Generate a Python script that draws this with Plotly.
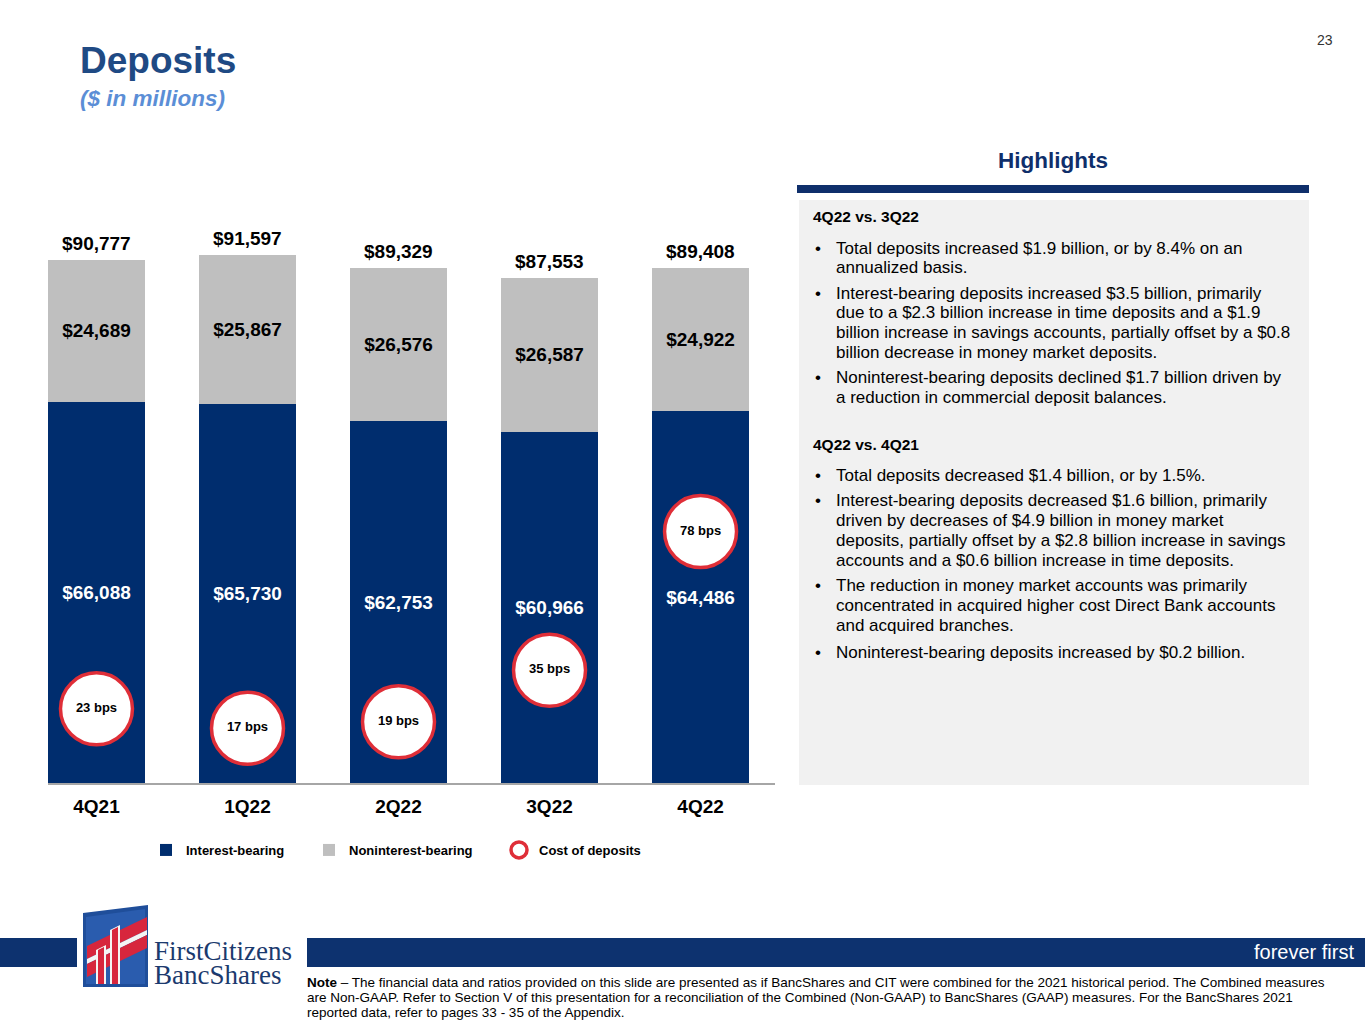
import plotly.graph_objects as go

# ---------------- data ----------------
quarters = ["4Q21", "1Q22", "2Q22", "3Q22", "4Q22"]
interest_bearing = [66088, 65730, 62753, 60966, 64486]
noninterest_bearing = [24689, 25867, 26576, 26587, 24922]
total_deposits = [90777, 91597, 89329, 87553, 89408]
cost_bps = [23, 17, 19, 35, 78]

hl_head1 = "4Q22 vs. 3Q22"
hl_bullets1 = [
    ["Total deposits increased $1.9 billion, or by 8.4% on an",
     "annualized basis."],
    ["Interest-bearing deposits increased $3.5 billion, primarily",
     "due to a $2.3 billion increase in time deposits and a $1.9",
     "billion increase in savings accounts, partially offset by a $0.8",
     "billion decrease in money market deposits."],
    ["Noninterest-bearing deposits declined $1.7 billion driven by",
     "a reduction in commercial deposit balances."],
]
hl_head2 = "4Q22 vs. 4Q21"
hl_bullets2 = [
    ["Total deposits decreased $1.4 billion, or by 1.5%."],
    ["Interest-bearing deposits decreased $1.6 billion, primarily",
     "driven by decreases of $4.9 billion in money market",
     "deposits, partially offset by a $2.8 billion increase in savings",
     "accounts and a $0.6 billion increase in time deposits."],
    ["The reduction in money market accounts was primarily",
     "concentrated in acquired higher cost Direct Bank accounts",
     "and acquired branches."],
    ["Noninterest-bearing deposits increased by $0.2 billion."],
]
note_lines = [
    "<b>Note</b> \u2013 The financial data and ratios provided on this slide are presented as if BancShares and CIT were combined for the 2021 historical period. The Combined measures",
    "are Non-GAAP. Refer to Section V of this presentation for a reconciliation of the Combined (Non-GAAP) to BancShares (GAAP) measures. For the BancShares 2021",
    "reported data, refer to pages 33 - 35 of the Appendix.",
]

# ---------------- layout constants ----------------
W, H = 1365, 1024
FONT = "Liberation Sans, Arial, Helvetica, sans-serif"
SERIF = "Liberation Serif, Times New Roman, serif"
NAVY = "#002D6E"
GRAY = "#BFBFBF"
RED = "#DF2E38"


def px(x):
    return x / W


def py(y):
    return 1 - y / H


BASE_Y = 783
TOP_Y = 200
Y1_MAX = (BASE_Y - TOP_Y) / 0.005765
Y2_MAX = (BASE_Y - TOP_Y) / 3.223

fig = go.Figure()

fig.add_trace(go.Bar(
    x=quarters, y=interest_bearing, name="Interest-bearing",
    marker=dict(color=NAVY, line=dict(width=0)), width=0.642,
    texttemplate="<b>$%{y:,}</b>", textposition="inside",
    insidetextanchor="middle", textangle=0,
    textfont=dict(color="white", size=19, family=FONT),
    legend="legend", hoverinfo="skip",
))
fig.add_trace(go.Bar(
    x=quarters, y=noninterest_bearing, name="Noninterest-bearing",
    marker=dict(color=GRAY, line=dict(width=0)), width=0.642,
    texttemplate="<b>$%{y:,}</b>", textposition="inside",
    insidetextanchor="middle", textangle=0,
    textfont=dict(color="black", size=19, family=FONT),
    legend="legend2", hoverinfo="skip",
))
fig.add_trace(go.Scatter(
    x=quarters, y=cost_bps, yaxis="y2", mode="markers", name="Cost of deposits",
    marker=dict(size=72, color="white", line=dict(color=RED, width=3.5)),
    legend="legend3", hoverinfo="skip",
))
fig.add_trace(go.Scatter(
    x=quarters, y=cost_bps, yaxis="y2", mode="text",
    text=[f"<b>{v} bps</b>" for v in cost_bps],
    textposition="middle center",
    textfont=dict(color="black", size=13, family=FONT),
    showlegend=False, hoverinfo="skip",
))

annotations = []
# totals above bars
for q, t in zip(quarters, total_deposits):
    annotations.append(dict(
        x=q, y=t, xref="x", yref="y", text=f"<b>${t:,}</b>", showarrow=False,
        yanchor="bottom", yshift=4, font=dict(size=19, color="black", family=FONT),
    ))


def txt(x, y, text, size, color="black", xanchor="left", bold=False, italic=False, family=FONT):
    if bold:
        text = f"<b>{text}</b>"
    if italic:
        text = f"<i>{text}</i>"
    annotations.append(dict(
        x=px(x), y=py(y), xref="paper", yref="paper", text=text, showarrow=False,
        xanchor=xanchor, yanchor="middle", font=dict(size=size, color=color, family=family),
    ))


# title
txt(78, 60, "Deposits", 37, color="#1F4A84", bold=True)
txt(78, 98, "($ in millions)", 22.5, color="#5B8ED6", bold=True, italic=True)
txt(1325, 40, "23", 14, color="#333333", xanchor="center")

# highlights
txt(1053, 160, "Highlights", 22.5, color="#0F2F6B", xanchor="center", bold=True)

line_y = {
    "h1": 216.7,
    "b1": [[248.3, 267.7], [293.3, 312.7, 332.7, 352.7], [377.7, 397.7]],
    "h2": 444,
    "b2": [[475], [500.7, 520, 540, 560], [585.7, 605.7, 625.7], [652.3]],
}
txt(811, line_y["h1"], hl_head1, 15.5, bold=True)
for lines, ys in zip(hl_bullets1, line_y["b1"]):
    txt(813, ys[0], "\u2022", 17)
    for ln, yy in zip(lines, ys):
        txt(834, yy, ln, 17)
txt(811, line_y["h2"], hl_head2, 15.5, bold=True)
for lines, ys in zip(hl_bullets2, line_y["b2"]):
    txt(813, ys[0], "\u2022", 17)
    for ln, yy in zip(lines, ys):
        txt(834, yy, ln, 17)

# footer
txt(1356, 952, "forever first", 20, color="white", xanchor="right")
for i, ln in enumerate(note_lines):
    txt(305, 982 + 15 * i, ln, 13.5)
txt(152, 951, "FirstCitizens", 27, color="#1B3A6E", family=SERIF)
txt(152, 975, "BancShares", 27, color="#1B3A6E", family=SERIF)

shapes = []


def rect(x0, y0, x1, y1, color, layer="below"):
    shapes.append(dict(type="rect", xref="paper", yref="paper",
                       x0=px(x0), x1=px(x1), y0=py(y1), y1=py(y0),
                       fillcolor=color, line=dict(width=0), layer=layer))


def poly(points, color, layer="above"):
    path = "M " + " L ".join(f"{px(a)},{py(b)}" for a, b in points) + " Z"
    shapes.append(dict(type="path", xref="paper", yref="paper", path=path,
                       fillcolor=color, line=dict(width=0), layer=layer))


# highlights box
rect(799, 200, 1309, 785, "#F1F1F1")
rect(797, 185, 1309, 193, "#0F2F6B")
# footer bands
rect(0, 938, 77, 967, "#0D326F")
rect(307, 938, 1365, 967, "#0D326F")
# logo
poly([(83, 913), (148, 905), (148, 987), (83, 987)], "#1F4E9A")
poly([(86, 917), (145, 909), (145, 984), (86, 984)], "#2A5CAE")
poly([(87, 946), (147, 917), (147, 930), (87, 959)], "#D7263D")
poly([(87, 959), (147, 930), (147, 935), (87, 964)], "#F4F4F4")
poly([(87, 964), (147, 935), (147, 948), (87, 977)], "#D7263D")
poly([(96, 950), (106, 945), (106, 984), (96, 984)], "#F4F4F4")
poly([(98, 950), (104, 947), (104, 984), (98, 984)], "#D7263D")
poly([(110, 930), (120, 925), (120, 984), (110, 984)], "#F4F4F4")
poly([(112, 930), (118, 927), (118, 984), (112, 984)], "#D7263D")

legend_common = dict(orientation="h", yanchor="middle", y=py(850), xanchor="left",
                     font=dict(size=13, color="black", family=FONT, weight="bold"),
                     bgcolor="rgba(0,0,0,0)", borderwidth=0)

fig.update_layout(
    width=W, height=H,
    margin=dict(l=0, r=0, t=0, b=0),
    paper_bgcolor="white", plot_bgcolor="rgba(0,0,0,0)",
    barmode="stack",
    font=dict(family=FONT, color="black"),
    xaxis=dict(domain=[px(48), px(775)], type="category", range=[-0.321, 4.493],
               showline=True, linecolor="#A6A6A6", linewidth=1.5, showgrid=False,
               zeroline=False, ticks="", ticklabelstandoff=5,
               tickfont=dict(size=19, color="black", family=FONT),
               tickvals=quarters, ticktext=[f"<b>{q}</b>" for q in quarters],
               fixedrange=True),
    yaxis=dict(domain=[py(BASE_Y), py(TOP_Y)], range=[0, Y1_MAX], visible=False,
               showgrid=False, zeroline=False),
    yaxis2=dict(domain=[py(BASE_Y), py(TOP_Y)], range=[0, Y2_MAX], overlaying="y",
                visible=False, showgrid=False, zeroline=False),
    legend=dict(x=px(146), **legend_common),
    legend2=dict(x=px(309), **legend_common),
    legend3=dict(x=px(499), **legend_common),
    annotations=annotations,
    shapes=shapes,
    showlegend=True,
)

fig.write_html("out.html", config={"displayModeBar": False},
               post_script="document.body.style.margin='0';document.body.style.padding='0';")
